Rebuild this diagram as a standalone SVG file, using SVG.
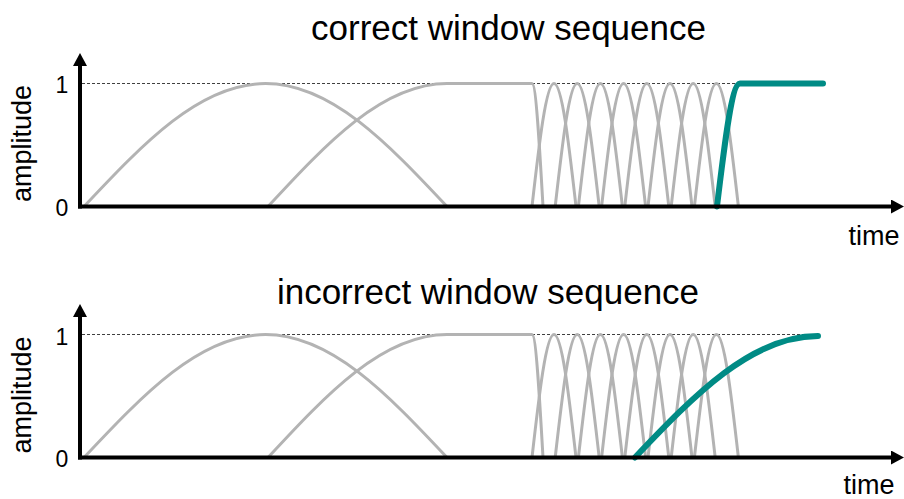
<svg xmlns="http://www.w3.org/2000/svg" xmlns:xlink="http://www.w3.org/1999/xlink" width="904" height="499" viewBox="0 0 904 499">
  <style>
    .title { font-family: "Liberation Sans", Arial, sans-serif; font-size: 35px; fill: #000; text-anchor: middle; }
    .lab { font-family: "Liberation Sans", Arial, sans-serif; font-size: 27px; fill: #000; }
    .tick { font-family: "Liberation Sans", Arial, sans-serif; font-size: 23px; fill: #000; text-anchor: middle; }
    .axis { stroke: #000; stroke-width: 4; fill: none; }
    .win { stroke: #b3b3b3; stroke-width: 3; fill: none; }
    .ref { stroke: #404040; stroke-width: 1; stroke-dasharray: 3 2; fill: none; }
    .teal { stroke: #008b85; stroke-width: 6; fill: none; stroke-linecap: round; stroke-linejoin: round; }
  </style>
  <defs>
    <marker id="arrow" markerUnits="userSpaceOnUse" markerWidth="14" markerHeight="14" refX="0" refY="7" orient="auto">
      <path d="M0,0 L13,7 L0,14 Z" fill="#000"/>
    </marker>
    <path id="short" class="win" d="M-22,0 C-14.83,-63 -7.96,-123 0,-123 C7.96,-123 14.83,-63 22,0"/>
    <g id="windows">
      <path class="win" d="M84,0 C143.2,-63 199.8,-123 265.5,-123 C331.2,-123 387.8,-63 447,0"/>
      <path class="win" d="M268,0 C326.4,-63 382.2,-123 447,-123 H532 C536,-123 539.4,-63 543,0"/>
      <use xlink:href="#short" x="554"/>
      <use xlink:href="#short" x="577.2"/>
      <use xlink:href="#short" x="600.4"/>
      <use xlink:href="#short" x="623.6"/>
      <use xlink:href="#short" x="646.8"/>
      <use xlink:href="#short" x="670"/>
      <use xlink:href="#short" x="693.2"/>
      <use xlink:href="#short" x="716.4"/>
    </g>
  </defs>

  <g id="chart-correct">
    <text class="title" x="508.5" y="39.5">correct window sequence</text>
    <text class="lab" transform="translate(31,143.5) rotate(-90)" text-anchor="middle">amplitude</text>
    <text class="tick" x="62" y="93">1</text>
    <text class="tick" x="62" y="216">0</text>
    <text class="lab" x="874" y="245" text-anchor="middle">time</text>
    <line class="ref" x1="82" y1="83.5" x2="738" y2="83.5"/>
    <use xlink:href="#windows" transform="translate(0,206.5)"/>
    <path class="teal" d="M717,206.5 C724.5,143.5 731.7,83.5 740,83.5 H823"/>
    <g id="axes-correct">
      <line class="axis" x1="80" y1="208.5" x2="80" y2="66" marker-end="url(#arrow)"/>
      <line class="axis" x1="78" y1="206.5" x2="891" y2="206.5" marker-end="url(#arrow)"/>
    </g>
  </g>

  <g id="chart-incorrect">
    <text class="title" x="488" y="304">incorrect window sequence</text>
    <text class="lab" transform="translate(31,395) rotate(-90)" text-anchor="middle">amplitude</text>
    <text class="tick" x="62" y="345">1</text>
    <text class="tick" x="62" y="467">0</text>
    <text class="lab" x="869" y="494" text-anchor="middle">time</text>
    <line class="ref" x1="82" y1="334.5" x2="817" y2="334.5"/>
    <use xlink:href="#windows" transform="translate(0,457.5)"/>
    <path class="teal" d="M635,457.5 C694.7,394.5 751.8,336 818,336"/>
    <g id="axes-incorrect">
      <line class="axis" x1="80" y1="459.5" x2="80" y2="317" marker-end="url(#arrow)"/>
      <line class="axis" x1="78" y1="457.5" x2="891" y2="457.5" marker-end="url(#arrow)"/>
    </g>
  </g>
</svg>
